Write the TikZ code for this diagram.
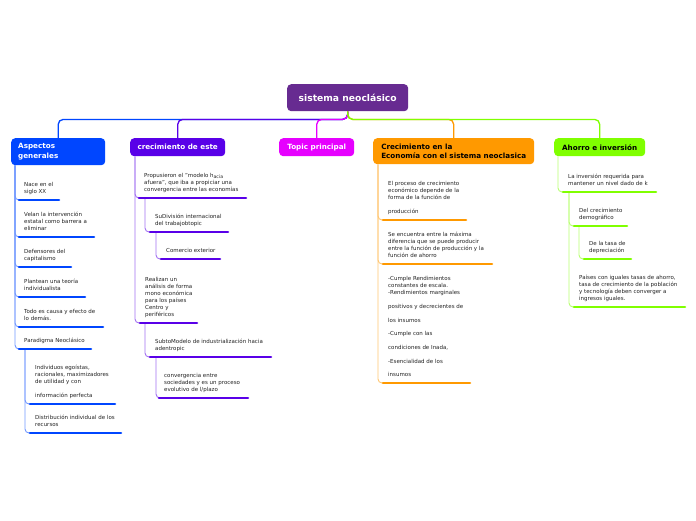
\documentclass[tikz,border=0pt]{standalone}
\usepackage{fontspec}
\setmainfont{DejaVu Sans}
\definecolor{rootc}{RGB}{103,43,145}
\definecolor{bluec}{RGB}{0,70,255}
\definecolor{violc}{RGB}{89,0,232}
\definecolor{magc}{RGB}{230,0,255}
\definecolor{orc}{RGB}{255,153,0}
\definecolor{grc}{RGB}{128,255,0}
\definecolor{txtc}{RGB}{35,35,35}
\tikzset{
  rootbox/.style={fill=rootc, rounded corners=4pt, text=white,
    font=\bfseries\fontsize{9.2}{11}\selectfont, minimum width=121pt,
    minimum height=27pt, inner sep=0pt, anchor=north west},
  mainbox/.style={fill=#1, rounded corners=4pt, anchor=north west,
    font=\bfseries\fontsize{7.2}{9.3}\selectfont, inner xsep=7pt, inner ysep=0pt},
  sub/.style={anchor=south west, align=left, text=txtc,
    font=\fontsize{5.5}{7}\selectfont, inner xsep=5pt, inner ysep=3.9pt,
    execute at end node=\strut},
  ul/.style={draw=#1, line width=2.6pt, line cap=round},
  conn/.style={draw=#1!55, line width=0.9pt, rounded corners=4pt},
  branch/.style={draw=#1, line width=1.3pt, rounded corners=5pt},
}
\begin{document}
\begin{tikzpicture}[x=1pt,y=-1pt]
\useasboundingbox[fill=white] (0,0) rectangle (696,520);

% root and main branches
\node[rootbox] (root) at (287,84) {sistema neoclásico};
\coordinate (hub) at ([yshift=-8pt]root.south);

\node[mainbox=bluec, text=white, text width=80pt, align=left, minimum height=27pt] (A) at (11,138) {Aspectos\\generales};
\node[mainbox=violc, text=white, minimum width=95pt, minimum height=18pt, align=center] (B) at (130,138) {crecimiento de este};
\node[mainbox=magc, text=white, minimum width=75pt, minimum height=18pt, align=center] (C) at (279,138) {Topic principal};
\node[mainbox=orc, text=black, minimum width=161pt, minimum height=26pt, align=left] (D) at (373,138) {Crecimiento en la\\Economía con el sistema neoclasica};
\node[mainbox=grc, text=black, minimum width=91pt, minimum height=18pt, align=center] (E) at (554,138) {Ahorro e inversión};

\draw[branch=bluec] (root.south) -- (hub) -| (A.north);
\draw[branch=violc] (root.south) -- (hub) -| (B.north);
\draw[branch=magc] (root.south) -- (hub) -| (C.north);
\draw[branch=orc] (root.south) -- (hub) -| (D.north);
\draw[branch=grc] (root.south) -- (hub) -| (E.north);

% column A
\node[sub] (a1) at (19,200) {Nace en el\\siglo XX};
\node[sub] (a2) at (19,237) {Velan la intervención\\estatal como barrera a\\eliminar};
\node[sub] (a3) at (19,267) {Defensores del\\capitalismo};
\node[sub] (a4) at (19,297) {Plantean una teoría\\individualista};
\node[sub] (a5) at (19,327) {Todo es causa y efecto de\\lo demás.};
\node[sub] (a6) at (19,349) {Paradigma Neoclásico};
\node[sub] (a61) at (30,404) {Individuos egoístas,\\racionales, maximizadores\\de utilidad y con\\[7pt]información perfecta};
\node[sub] (a62) at (30,433) {Distribución individual de los\\recursos};
\foreach \n in {a1,a2,a3,a4,a5,a6}
  \draw[conn=bluec] ([xshift=4pt]A.south west) |- (\n.south west);
\foreach \n in {a61,a62}
  \draw[conn=bluec] ([xshift=6pt]a6.south west) |- (\n.south west);
\draw[ul=bluec] (a1.south west) -- ++(40,0);
\draw[ul=bluec] (a2.south west) -- ++(75,0);
\draw[ul=bluec] (a3.south west) -- ++(52,0);
\draw[ul=bluec] (a4.south west) -- ++(66,0);
\draw[ul=bluec] (a5.south west) -- ++(84,0);
\draw[ul=bluec] (a6.south west) -- ++(72,0);
\draw[ul=bluec] (a61.south west) -- ++(85,0);
\draw[ul=bluec] (a62.south west) -- ++(91,0);

% column B
\node[sub] (b1) at (139,198) {Propusieron el "modelo h{\fontsize{4.6}{5}\selectfont\raisebox{-0.8pt}{acia}}\\afuera", que iba a propiciar una\\convergencia entre las economías};
\node[sub] (b11) at (150,232) {SuDivisión internacional\\del trabajobtopic};
\node[sub] (b111) at (161,259) {Comercio exterior};
\node[sub] (b2) at (140,323) {Realizan un\\análisis de forma\\mono económica\\para los países\\Centro y\\periféricos};
\node[sub] (b21) at (150,357) {SubtoModelo de industrialización hacia\\adentropic};
\node[sub] (b211) at (159,398) {convergencia entre\\sociedades y es un proceso\\evolutivo de l/plazo};
\foreach \n in {b1,b2}
  \draw[conn=violc] ([xshift=5pt]B.south west) |- (\n.south west);
\draw[conn=violc] ([xshift=6pt]b1.south west) |- (b11.south west);
\draw[conn=violc] ([xshift=6pt]b11.south west) |- (b111.south west);
\draw[conn=violc] ([xshift=5pt]b2.south west) |- (b21.south west);
\draw[conn=violc] ([xshift=6pt]b21.south west) |- (b211.south west);
\draw[ul=violc] (b1.south west) -- ++(107,0);
\draw[ul=violc] (b11.south west) -- ++(78,0);
\draw[ul=violc] (b111.south west) -- ++(59,0);
\draw[ul=violc] (b2.south west) -- ++(57,0);
\draw[ul=violc] (b21.south west) -- ++(121,0);
\draw[ul=violc] (b211.south west) -- ++(89,0);

% column D
\node[sub] (d1) at (383,220) {El proceso de crecimiento\\económico depende de la\\forma de la función de\\[7pt]producción};
\node[sub] (d2) at (383,264) {Se encuentra entre la máxima\\diferencia que se puede producir\\entre la función de producción y la\\función de ahorro};
\node[sub] (d3) at (383,383) {-Cumple Rendimientos\\constantes de escala.\\-Rendimientos marginales\\[6.7pt]positivos y decrecientes de\\[6.7pt]los insumos\\[6.7pt]-Cumple con las\\[6.7pt]condiciones de Inada,\\[6.7pt]-Esencialidad de los\\[6.7pt]insumos};
\foreach \n in {d1,d2,d3}
  \draw[conn=orc] ([xshift=5pt]D.south west) |- (\n.south west);
\draw[ul=orc] (d1.south west) -- ++(83,0);
\draw[ul=orc] (d2.south west) -- ++(109,0);
\draw[ul=orc] (d3.south west) -- ++(87,0);

% column E
\node[sub] (e1) at (563,192) {La inversión requerida para\\mantener un nivel dado de k};
\node[sub] (e11) at (574,226) {Del crecimiento\\demográfico};
\node[sub] (e111) at (584,259) {De la tasa de\\depreciación};
\node[sub] (e12) at (574,307) {Países con iguales tasas de ahorro,\\tasa de crecimiento de la población\\y tecnología deben converger a\\ingresos iguales.};
\draw[conn=grc] ([xshift=4pt]E.south west) |- (e1.south west);
\foreach \n in {e11,e12}
  \draw[conn=grc] ([xshift=6pt]e1.south west) |- (\n.south west);
\draw[conn=grc] ([xshift=5pt]e11.south west) |- (e111.south west);
\draw[ul=grc] (e1.south west) -- ++(93,0);
\draw[ul=grc] (e11.south west) -- ++(53,0);
\draw[ul=grc] (e111.south west) -- ++(47,0);
\draw[ul=grc] (e12.south west) -- ++(111,0);
\end{tikzpicture}
\end{document}
